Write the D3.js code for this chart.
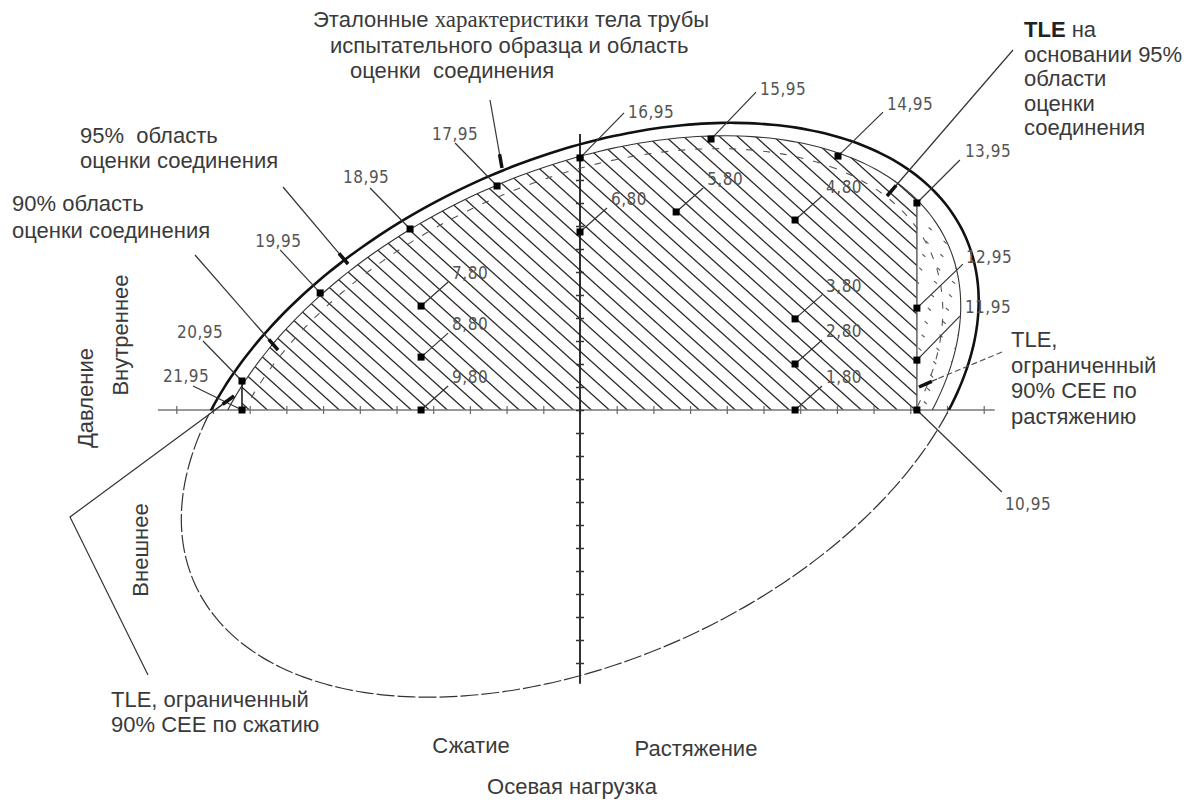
<!DOCTYPE html>
<html>
<head>
<meta charset="utf-8">
<script src="https://cdn.jsdelivr.net/npm/d3@7/dist/d3.min.js"></script>
<style>
  body { margin: 0; background: #fff; }
  text { font-family: "Liberation Sans", Arial, sans-serif; fill: #3a3a3a; }
  .note { font-size: 22px; white-space: pre; }
  .pt-label { font-family: "Liberation Sans Narrow", "Arial Narrow", "DejaVu Sans Condensed", sans-serif; font-size: 17px; fill: #555; letter-spacing: 0.5px; }
</style>
</head>
<body>
<svg id="chart"></svg>
<script>
const WIDTH = 1192;
const HEIGHT = 803;

// load points, in axis units (one tick = one unit)
const pointIds = [1, 2, 3, 4, 5, 6, 7, 8, 9, 10, 11, 12, 13, 14, 15, 16, 17, 18, 19, 20, 21];
const pointLevels = ['80', '80', '80', '80', '80', '80', '80', '80', '80',
  '95', '95', '95', '95', '95', '95', '95', '95', '95', '95', '95', '95'];
const axialLoad = [5.86, 5.86, 5.86, 5.86, 2.62, 0, -4.33, -4.33, -4.33,
  9.18, 9.18, 9.18, 9.18, 7.03, 3.57, 0, -2.26, -4.63, -7.08, -9.21, -9.21];
const pressure = [0, 2.0, 3.96, 8.26, 8.61, 7.74, 4.52, 2.30, 0,
  0, 2.17, 4.43, 9.0, 11.04, 11.78, 10.96, 9.74, 7.87, 5.09, 1.26, 0];

// envelopes: pipe body ellipse and its 95% / 90% areas
const envelopeNames = ['pipe body', '95% CEE', '90% CEE'];
const envelopeScale = [1, 0.955, 0.91];
const ellipseCenter = [0, 0];
const ellipseRadii = [13.85, 9.06];
const ellipseAngle = 55.1;

// TLE limits on the axial load axis
const tleTension = 9.18;
const tleCompression = -9.21;

const xTicks = d3.range(-11, 12);
const yTicks = d3.range(-11, 12);

// label placement, [text dx, text dy, leader dx, leader dy] in px from the point
const labelLayout80 = [31, -27, 27, -24];
const labelLayout95 = {
  10: [88, 100, 85, 82],
  11: [48, -47, 43, -44],
  12: [49, -45, 46, -44],
  13: [48, -46, 43, -43],
  14: [49, -46, 45, -44],
  15: [49, -44, 45, -47],
  16: [48, -40, 44, -45],
  17: [-65, -46, -42, -43],
  18: [-67, -46, -40, -41],
  19: [-65, -46, -40, -43],
  20: [-65, -43, -39, -40],
  21: [-79, -28, -49, -24]
};

const points = pointIds.map((id, i) => ({
  id, level: pointLevels[i], u: axialLoad[i], v: pressure[i]
}));

const svg = d3.select('#chart').attr('width', WIDTH).attr('height', HEIGHT);

const x = d3.scaleLinear().domain([-12, 12]).range([139.6, 1020.4]);
const y = d3.scaleLinear().domain([-12, 12]).range([686, 134]);
const X0 = x(0);
const Y0 = y(0);

function envelopePath(k) {
  const phi = ellipseAngle * Math.PI / 180;
  const pts = d3.range(0, 360, 2).map(deg => {
    const t = deg * Math.PI / 180;
    const a = ellipseRadii[0] * Math.cos(t);
    const b = ellipseRadii[1] * Math.sin(t);
    const u = ellipseCenter[0] + k * (a * Math.cos(phi) - b * Math.sin(phi));
    const v = ellipseCenter[1] + k * (a * Math.sin(phi) + b * Math.cos(phi));
    return [x(u), y(v)];
  });
  return d3.line().curve(d3.curveCardinalClosed)(pts);
}

const defs = svg.append('defs');
function clipRect(id, x0, y0, x1, y1) {
  defs.append('clipPath').attr('id', id)
    .append('rect')
    .attr('x', x0).attr('y', y0)
    .attr('width', x1 - x0).attr('height', y1 - y0);
}
clipRect('above', 0, 0, WIDTH, Y0);
clipRect('below', 0, Y0, WIDTH, HEIGHT);
clipRect('tle', x(tleCompression), 0, x(tleTension), Y0);
clipRect('beyond', x(tleTension), 0, WIDTH, Y0);
defs.append('clipPath').attr('id', 'e95')
  .append('path').attr('d', envelopePath(envelopeScale[1]));

// hatching
const hatchAngle = 42;
const hatchStep = 18;
const run = 700 / Math.tan(hatchAngle * Math.PI / 180);
const offsets = d3.range(-800, WIDTH + 100, hatchStep);

svg.append('g').attr('clip-path', 'url(#e95)')
  .append('g').attr('clip-path', 'url(#tle)')
  .selectAll('line')
  .data(offsets)
  .join('line')
  .attr('x1', c => c).attr('y1', 0)
  .attr('x2', c => c + run).attr('y2', 700)
  .attr('stroke', '#2a2a2a')
  .attr('stroke-width', 1.3);

svg.append('g').attr('clip-path', 'url(#e95)')
  .append('g').attr('clip-path', 'url(#beyond)')
  .selectAll('line')
  .data(offsets)
  .join('line')
  .attr('x1', c => c).attr('y1', 0)
  .attr('x2', c => c + run).attr('y2', 700)
  .attr('stroke', '#555')
  .attr('stroke-width', 1.1)
  .attr('stroke-dasharray', '4 16');

// axes
const xAxisG = svg.append('g').attr('transform', `translate(0,${Y0})`);
xAxisG.append('line')
  .attr('x1', x(-11.5)).attr('x2', x(11.3))
  .attr('stroke', '#777').attr('stroke-width', 1.4);
[d3.axisBottom, d3.axisTop].forEach(axis => {
  xAxisG.append('g')
    .call(axis(x).tickValues(xTicks).tickSize(4).tickFormat(''))
    .call(g => g.select('.domain').remove())
    .call(g => g.selectAll('.tick line').attr('stroke', '#666').attr('stroke-width', 1.2));
});

const yAxisG = svg.append('g').attr('transform', `translate(${X0},0)`);
yAxisG.append('line')
  .attr('y1', y(12)).attr('y2', y(-11.9))
  .attr('stroke', '#1a1a1a').attr('stroke-width', 1.8);
[d3.axisLeft, d3.axisRight].forEach(axis => {
  yAxisG.append('g')
    .call(axis(y).tickValues(yTicks).tickSize(4).tickFormat(''))
    .call(g => g.select('.domain').remove())
    .call(g => g.selectAll('.tick line').attr('stroke', '#333').attr('stroke-width', 1.5));
});

// envelopes
svg.append('path').attr('d', envelopePath(envelopeScale[0]))
  .attr('clip-path', 'url(#above)')
  .attr('fill', 'none').attr('stroke', '#111').attr('stroke-width', 2.6);
svg.append('path').attr('d', envelopePath(envelopeScale[0]))
  .attr('clip-path', 'url(#below)')
  .attr('fill', 'none').attr('stroke', '#333').attr('stroke-width', 1.2)
  .attr('stroke-dasharray', '18 3');
svg.append('path').attr('d', envelopePath(envelopeScale[1]))
  .attr('clip-path', 'url(#above)')
  .attr('fill', 'none').attr('stroke', '#333').attr('stroke-width', 1.1);
svg.append('path').attr('d', envelopePath(envelopeScale[2]))
  .attr('clip-path', 'url(#above)')
  .attr('fill', 'none').attr('stroke', '#555').attr('stroke-width', 1.1)
  .attr('stroke-dasharray', '7 10');

// TLE limit lines
const topAt = u => d3.max(points.filter(p => p.u === u), p => p.v);
svg.append('line')
  .attr('x1', x(tleTension)).attr('x2', x(tleTension))
  .attr('y1', Y0).attr('y2', y(topAt(tleTension)))
  .attr('stroke', '#555').attr('stroke-width', 1.4);
svg.append('line')
  .attr('x1', x(tleCompression)).attr('x2', x(tleCompression))
  .attr('y1', Y0).attr('y2', y(topAt(tleCompression)))
  .attr('stroke', '#222').attr('stroke-width', 1.6);

// leader with a heavy tip
function arrow(from, to) {
  const g = svg.append('g');
  g.append('line')
    .attr('x1', from[0]).attr('y1', from[1]).attr('x2', to[0]).attr('y2', to[1])
    .attr('stroke', '#333').attr('stroke-width', 1.2);
  const dx = to[0] - from[0], dy = to[1] - from[1];
  const len = Math.hypot(dx, dy);
  const tip = 14;
  g.append('line')
    .attr('x1', to[0] - dx / len * tip).attr('y1', to[1] - dy / len * tip)
    .attr('x2', to[0]).attr('y2', to[1])
    .attr('stroke', '#111').attr('stroke-width', 3.5);
}

// labels and leaders for the load points
const layoutOf = p => p.level === '80' ? labelLayout80 : labelLayout95[p.id];

svg.append('g').selectAll('line')
  .data(points)
  .join('line')
  .attr('x1', p => x(p.u)).attr('y1', p => y(p.v))
  .attr('x2', p => x(p.u) + layoutOf(p)[2])
  .attr('y2', p => y(p.v) + layoutOf(p)[3])
  .attr('stroke', '#333').attr('stroke-width', 1.2);

svg.append('g').selectAll('text')
  .data(points)
  .join('text')
  .attr('class', 'pt-label')
  .attr('x', p => x(p.u) + layoutOf(p)[0])
  .attr('y', p => y(p.v) + layoutOf(p)[1])
  .text(p => `${p.id},${p.level}`);

svg.append('g').selectAll('rect')
  .data(points)
  .join('rect')
  .attr('x', p => x(p.u) - 3.5).attr('y', p => y(p.v) - 3.5)
  .attr('width', 7).attr('height', 7)
  .attr('fill', '#000');

// annotation leaders
arrow([490, 100], [502, 168]);
arrow([283, 187], [348, 264]);
arrow([195, 255], [278, 350]);
arrow([1013, 50], [887, 196]);
svg.append('line').attr('x1', 1002).attr('y1', 352).attr('x2', 937).attr('y2', 379)
  .attr('stroke', '#555').attr('stroke-width', 1.2).attr('stroke-dasharray', '6 3');
arrow([937, 379], [919, 387]);
svg.append('polyline')
  .attr('points', '148,675 70,517 234,396')
  .attr('fill', 'none').attr('stroke', '#333').attr('stroke-width', 1.2);
arrow([212, 412], [234, 396]);

// texts
function note(lines, x0, y0, step, anchor) {
  const t = svg.append('text').attr('class', 'note').attr('text-anchor', anchor || 'start');
  lines.forEach((s, i) => t.append('tspan').attr('x', x0).attr('y', y0 + i * step).text(s));
  return t;
}

const title = svg.append('text').attr('class', 'note').attr('x', 313).attr('y', 27);
title.append('tspan').text('Эталонные ');
title.append('tspan').style('font-family', '"Liberation Serif", serif').style('font-size', '23px').text('характеристики');
title.append('tspan').text(' тела трубы');
note(['испытательного образца и область'], 330, 53, 0);
note(['оценки  соединения'], 350, 78, 0);

note(['95%  область', 'оценки соединения'], 80, 143, 25);
note(['90% область', 'оценки соединения'], 12, 211, 27);

const tle95 = note(['', 'основании 95%', 'области', 'оценки', 'соединения'], 1024, 37, 24.5);
tle95.select('tspan').append('tspan').style('font-weight', 'bold').style('fill', '#222').text('TLE');
tle95.select('tspan').append('tspan').text(' на');

note(['TLE,', 'ограниченный', '90% CEE по', 'растяжению'], 1011, 347, 25.5);
note(['TLE, ограниченный', '90% CEE по сжатию'], 111, 707, 25);

note(['Сжатие'], 471, 753, 0, 'middle');
note(['Растяжение'], 696, 756, 0, 'middle');
note(['Осевая нагрузка'], 572, 794, 0, 'middle');

[['Давление', 85, 398], ['Внутреннее', 120, 335], ['Внешнее', 140, 550]].forEach(([s, cx, cy]) => {
  svg.append('text').attr('class', 'note')
    .attr('transform', `translate(${cx},${cy}) rotate(-90)`)
    .attr('text-anchor', 'middle').attr('dy', '0.35em')
    .text(s);
});
</script>
</body>
</html>
